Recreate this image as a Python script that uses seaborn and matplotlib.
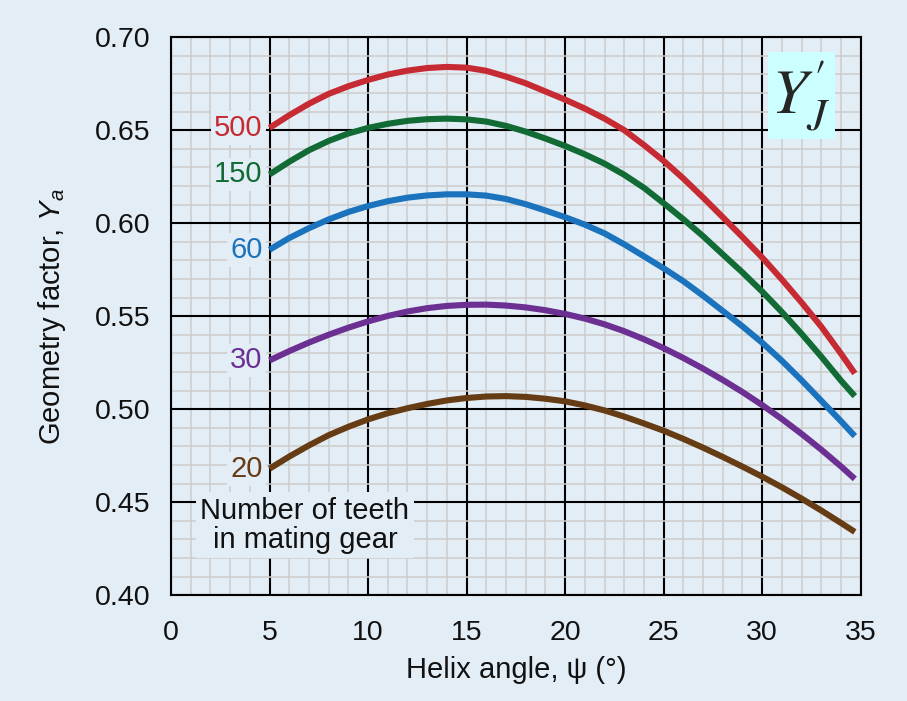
import numpy as np
import pandas as pd
import matplotlib
matplotlib.use("Agg")
import matplotlib.pyplot as plt
import seaborn as sns
from matplotlib.ticker import MultipleLocator, FormatStrFormatter
from matplotlib.patches import Rectangle

helix_angle = [5, 6, 7, 8, 9, 10, 11, 12, 13, 14, 15, 16, 17, 18, 19, 20,
               21, 22, 23, 24, 25, 26, 27, 28, 29, 30, 31, 32, 33, 34, 34.7]

# geometry factor for each number of teeth in the mating gear
ya_500 = [0.6512, 0.658, 0.6642, 0.6695, 0.6736, 0.677, 0.6799, 0.682, 0.6834, 0.684,
          0.6836, 0.6819, 0.6788, 0.6752, 0.6708, 0.6664, 0.6616, 0.6562, 0.650, 0.642,
          0.6335, 0.624, 0.6138, 0.6032, 0.5925, 0.5815, 0.5697, 0.5573, 0.5443, 0.5298, 0.5192]
ya_150 = [0.6262, 0.633, 0.6392, 0.6442, 0.6482, 0.6512, 0.6534, 0.655, 0.6559, 0.6562,
          0.6558, 0.6546, 0.6523, 0.6492, 0.6455, 0.6415, 0.637, 0.632, 0.626, 0.619,
          0.6107, 0.6021, 0.593, 0.5832, 0.5735, 0.5632, 0.5522, 0.5405, 0.5282, 0.5153, 0.507]
ya_60 = [0.5857, 0.592, 0.5973, 0.602, 0.606, 0.6092, 0.6118, 0.6137, 0.6149, 0.6155,
         0.6155, 0.6148, 0.613, 0.6102, 0.6068, 0.6032, 0.5992, 0.5945, 0.5886, 0.5822,
         0.5757, 0.5688, 0.561, 0.5528, 0.5445, 0.5357, 0.526, 0.5155, 0.5045, 0.4935, 0.4855]
ya_30 = [0.5262, 0.5312, 0.5358, 0.540, 0.5438, 0.5472, 0.5501, 0.5525, 0.5543, 0.5555,
         0.5561, 0.5562, 0.5557, 0.5547, 0.5532, 0.5512, 0.5487, 0.5456, 0.5419, 0.5376,
         0.5328, 0.5275, 0.5218, 0.5157, 0.5092, 0.5022, 0.4947, 0.4867, 0.4782, 0.4692, 0.4625]
ya_20 = [0.468, 0.4745, 0.4805, 0.486, 0.4905, 0.4945, 0.4978, 0.5005, 0.5028, 0.5047,
         0.506, 0.5068, 0.507, 0.5066, 0.5056, 0.5042, 0.502, 0.4993, 0.496, 0.4923,
         0.4884, 0.484, 0.4793, 0.4743, 0.4691, 0.4637, 0.458, 0.4519, 0.4455, 0.4388, 0.434]

teeth = ["500", "150", "60", "30", "20"]
curves = [ya_500, ya_150, ya_60, ya_30, ya_20]
colors = ["#c62a32", "#126b34", "#1b72bd", "#6c3093", "#663c14"]

bg = "#e3edf6"

sns.set_theme(style="white")
plt.rcParams["font.family"] = ["Liberation Sans", "DejaVu Sans"]
plt.rcParams["mathtext.fontset"] = "custom"
plt.rcParams["mathtext.rm"] = "Liberation Sans"
plt.rcParams["mathtext.it"] = "Liberation Sans:italic"

df = pd.concat([pd.DataFrame({"angle": helix_angle, "ya": ys, "teeth": n})
                for n, ys in zip(teeth, curves)], ignore_index=True)

fig = plt.figure(figsize=(9.07, 7.01), dpi=100, facecolor=bg)
ax = fig.add_axes([0.1885, 0.151, 0.7605, 0.796])
ax.set_facecolor(bg)

sns.lineplot(data=df, x="angle", y="ya", hue="teeth",
             palette=dict(zip(teeth, colors)), linewidth=4.4,
             legend=False, ax=ax, zorder=3, solid_capstyle="butt",
             solid_joinstyle="round")

# curve labels at the start of each curve
for n, ys, col in zip(teeth, curves, colors):
    ax.text(helix_angle[0] - 0.35, ys[0], n, color=col, fontsize=21,
            ha="right", va="center", zorder=4,
            bbox=dict(facecolor=bg, edgecolor="none", pad=2))

ax.text(6.8, 0.4375, "Number of teeth\nin mating gear", fontsize=21,
        ha="center", va="center", linespacing=1.08, color="#111111", zorder=4,
        bbox=dict(facecolor=bg, edgecolor="none", pad=3))

# Y'_J tag in the corner
ax.add_patch(Rectangle((0.865, 0.817), 0.097, 0.156, transform=ax.transAxes,
                       facecolor="#ccffff", edgecolor="none", zorder=4))
ax.text(0.913, 0.893, r"$Y^{\prime}_{J}$", transform=ax.transAxes, fontsize=46,
        ha="center", va="center", math_fontfamily="stix", zorder=5)

ax.set_xlim(0, 35)
ax.set_ylim(0.40, 0.70)
ax.xaxis.set_major_locator(MultipleLocator(5))
ax.xaxis.set_minor_locator(MultipleLocator(1))
ax.yaxis.set_major_locator(MultipleLocator(0.05))
ax.yaxis.set_minor_locator(MultipleLocator(0.01))
ax.yaxis.set_major_formatter(FormatStrFormatter("%.2f"))

ax.grid(which="minor", color="#cccccc", linewidth=1.1)
ax.grid(which="major", color="black", linewidth=1.5)
for s in ax.spines.values():
    s.set_color("black")
    s.set_linewidth(1.5)

ax.tick_params(which="both", length=0, labelsize=20.5, colors="#111111")
ax.tick_params(axis="y", pad=15)
ax.tick_params(axis="x", pad=18)

ax.set_xlabel("Helix angle, ψ (°)", fontsize=21, labelpad=7, color="#111111")
ax.set_ylabel("Geometry factor, $Y_a$", fontsize=21, labelpad=19, color="#111111")

fig.savefig("out.png", dpi=100, facecolor=bg)
